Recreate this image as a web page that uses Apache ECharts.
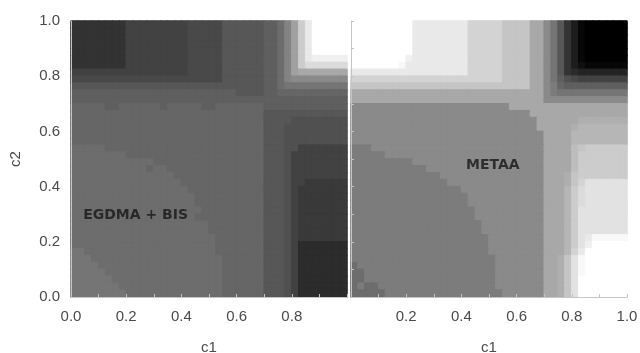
<!DOCTYPE html>
<html>
<head>
<meta charset="utf-8">
<script src="https://cdn.jsdelivr.net/npm/echarts@6/dist/echarts.min.js"></script>
<style>
  html, body { margin: 0; background: #fff; }
  #chart { width: 640px; height: 353px; }
</style>
</head>
<body>
<div id="chart"></div>
<script>
// contour level per 0.025 x 0.025 cell, one base-36 digit per cell: 0 = black ... z = white
// rows run from c2 = 1.0 (top) down to c2 = 0.0, columns from c1 = 0.0 to 1.0
// "d:24" means 24 cells of level d
var leftRows = [
    '7:8 9:9 a:5 c:6 d:2 f i m s w z:5',
    '7:8 9:9 a:5 c:6 d:2 f i m s w z:5',
    '7:8 9:9 a:5 c:6 d:2 f i m s w z:5',
    '7:8 9:9 a:5 c:6 d:2 f i m s w z:5',
    '7:8 9:9 a:5 c:6 d:2 f i m s w z:5',
    '7:8 9:9 a:5 c:6 d:2 f i m s w x:5',
    '7:8 9:9 a:5 c:6 d:2 f i m s u:6',
    '9:17 a:5 c:6 d:2 f i m n:7',
    'a:22 c:6 d:2 f i j:8',
    'c:28 d:2 f g:9',
    'd:24 c:4 d:2 e:10',
    'd:40',
    'e:5 d:2 e:6 d e:5 d:2 e:7 d:12',
    'e:28 c:12',
    'e:28 c:4 b:8',
    'e:28 c:3 b:9',
    'e:28 c:3 b:9',
    'e:28 c:3 b:9',
    'f:5 e:23 c:3 b:2 9:7',
    'f:8 e:20 c:3 b 9:8',
    'f:12 e:16 c:3 b 9:8',
    'f:11 e f:2 e:14 c:3 b 9:8',
    'f:15 e:13 c:3 b 9:8',
    'f:16 e:12 c:3 b 9:2 8:6',
    'f:17 e:11 c:3 b 9 8:7',
    'f:18 e:10 c:3 b 9 8:7',
    'f:18 e:10 c:3 b 9 8:7',
    'f:19 e:9 c:3 b 9 8:7',
    'f:18 e:10 c:3 b 9 8:7',
    'f:20 e:8 c:3 b 9 8:7',
    'f:20 e:8 c:3 b 9 8:7',
    'f:21 e:7 c:3 b 9 8:7',
    'f:21 e:7 c:3 b 9 6:7',
    'g:2 f:19 e:7 c:3 b 9 6:7',
    'g:3 f:19 e:6 c:3 b 9 6:7',
    'g:4 f:18 e:6 c:3 b 9 6:7',
    'g:5 f:17 e:6 c:3 b 9 6:7',
    'g:6 f:16 e:6 c:3 b 9 6:7',
    'g:7 f:15 e:6 c:3 b 9 6:7',
    'g:8 f:14 e:6 c:3 b 9 6:7'
];

var rightRows = [
    'z:9 w:8 t:5 r:4 n:2 j g c 7 4 1 0:6',
    'z:9 w:8 t:5 r:4 n:2 j g c 7 4 1 0:6',
    'z:9 w:8 t:5 r:4 n:2 j g c 7 4 1 0:6',
    'z:9 w:8 t:5 r:4 n:2 j g c 7 4 1 0:6',
    'z:9 w:8 t:5 r:4 n:2 j g c 7 4 1 0:6',
    'z:8 x w:8 t:5 r:4 n:2 j g c 7 4 1 0:6',
    'z:7 y w:9 t:5 r:4 n:2 j g c 7 4 2 1:6',
    'w:17 t:5 r:4 n:2 j g c 7 6 5:7',
    't:22 r:4 n:2 j g d b a 9:7',
    'r:26 n:2 j h e d:9',
    'n:28 j h g:10',
    'n:28 j:12',
    'j:23 n:17',
    'j:26 n:14',
    'j:27 n:6 o:7',
    'j:27 n:5 o p:7',
    'j:28 n:4 p:8',
    'j:28 n:4 p:8',
    'h:3 j:25 n:4 q r s:6',
    'h:5 j:23 n:4 q s:7',
    'h:9 j:19 n:4 q s:7',
    'h:11 j:17 n:4 q s:7',
    'h:13 j:15 n:3 o r s:7',
    'h:14 j:14 n:3 o r t v:6',
    'h:16 j:12 n:3 p s u v:6',
    'h:17 j:11 n:3 p s u v:6',
    'h:17 j:11 n:3 p s u v:6',
    'h:18 j:10 n:3 p s v:7',
    'h:18 j:10 n:3 p s v:7',
    'h:19 j:9 n:3 p s v:7',
    'h:19 j:9 n:3 p s v:7',
    'h:20 j:8 n:3 p s v w y:5',
    'h:20 j:8 n:3 p s v x z:5',
    'h:20 j:8 n:3 p t w z:6',
    'h:21 j:7 n:2 o r v y z:6',
    'f h:20 j:7 n:2 o r v y z:6',
    'f:2 h:19 j:7 n:2 o r v y z:6',
    'f:2 h:19 j:7 n:2 o r v z:7',
    'f h f:2 h:17 j:7 n:2 o r v z:7',
    'f:5 h:17 j:6 n:2 o r v z:7'
];

var panelNames = ['EGDMA + BIS', 'METAA'];
var nameC1 = [0.234, 0.514];
var nameC2 = [0.297, 0.477];

function decodeRow(rle) {
    var out = [];
    rle.split(' ').forEach(function (tok) {
        var p = tok.split(':');
        var n = p.length > 1 ? +p[1] : 1;
        for (var k = 0; k < n; k++) out.push(parseInt(p[0], 36));
    });
    return out;
}

function grayOf(level) {
    var g = Math.round(level * 255 / 35);
    return 'rgb(' + g + ',' + g + ',' + g + ')';
}

// each cell gets its own fill, and a border of the same grey to close the seams
function toCells(rows) {
    var data = [];
    rows.forEach(function (rle, i) {
        decodeRow(rle).forEach(function (v, j) {
            var c = grayOf(v);
            data.push({
                value: [j, rows.length - 1 - i, v],
                itemStyle: { color: c, borderColor: c, borderWidth: 1 }
            });
        });
    });
    return data;
}

var cells = decodeRow(leftRows[0]).map(function (v, j) { return j; });

var frameColor = '#c4c4c4';
var tickText = { fontFamily: 'Liberation Sans, Arial, sans-serif', fontSize: 15, color: '#4a4a4a' };

function frameAxis(gridIndex, position, show) {
    return {
        type: 'category', gridIndex: gridIndex, data: cells, position: position,
        show: show, boundaryGap: true, z: 5,
        axisLine: { show: true, lineStyle: { color: frameColor, width: 1 } },
        axisTick: { show: true, interval: 3, length: 3, lineStyle: { color: frameColor } },
        axisLabel: { show: false },
        splitLine: { show: false }
    };
}

function valueAxis(gridIndex, position, extra) {
    var ax = {
        type: 'value', gridIndex: gridIndex, min: 0, max: 1, interval: 0.2,
        position: position, z: 5,
        axisLine: { show: true, lineStyle: { color: frameColor } },
        axisTick: { show: false },
        splitLine: { show: false },
        axisLabel: Object.assign({ margin: 11, formatter: function (v) { return v.toFixed(1); } }, tickText),
        nameTextStyle: tickText
    };
    return Object.assign(ax, extra);
}

var chart = echarts.init(document.getElementById('chart'), null, { renderer: 'canvas' });

var option = {
    animation: false,
    grid: [
        { left: 71, top: 21, width: 276, height: 276, outerBoundsMode: 'none' },
        { left: 351, top: 21, width: 276, height: 276, outerBoundsMode: 'none' }
    ],
    xAxis: [
        frameAxis(0, 'top', true),
        valueAxis(0, 'bottom', {
            name: 'c1', nameLocation: 'middle', nameGap: 43,
            axisLabel: Object.assign({ margin: 12, showMaxLabel: false, formatter: function (v) { return v.toFixed(1); } }, tickText)
        }),
        frameAxis(1, 'top', true),
        valueAxis(1, 'bottom', {
            name: 'c1', nameLocation: 'middle', nameGap: 43,
            axisLabel: Object.assign({ margin: 12, showMinLabel: false, formatter: function (v) { return v.toFixed(1); } }, tickText)
        })
    ],
    yAxis: [
        frameAxis(0, 'right', false),
        valueAxis(0, 'left', { name: 'c2', nameLocation: 'middle', nameGap: 48, nameRotate: 90 }),
        frameAxis(1, 'right', true),
        valueAxis(1, 'left', { show: false })
    ],
    series: [
        {
            type: 'heatmap', xAxisIndex: 0, yAxisIndex: 0, data: toCells(leftRows),
            progressive: 0, silent: true, emphasis: { disabled: true }
        },
        {
            type: 'heatmap', xAxisIndex: 2, yAxisIndex: 2, data: toCells(rightRows),
            progressive: 0, silent: true, emphasis: { disabled: true }
        }
    ]
};

// panel names, placed in data space
panelNames.forEach(function (name, k) {
    option.series.push({
        type: 'scatter', xAxisIndex: k * 2 + 1, yAxisIndex: k * 2 + 1,
        symbolSize: 1, silent: true, z: 6,
        itemStyle: { color: 'rgba(0,0,0,0)' },
        data: [{ name: name, value: [nameC1[k], nameC2[k]] }],
        label: {
            show: true, position: 'inside', formatter: '{b}',
            fontFamily: 'DejaVu Sans', fontWeight: 'bold', fontSize: 14, color: '#161616'
        }
    });
});

chart.setOption(option);
</script>
</body>
</html>
